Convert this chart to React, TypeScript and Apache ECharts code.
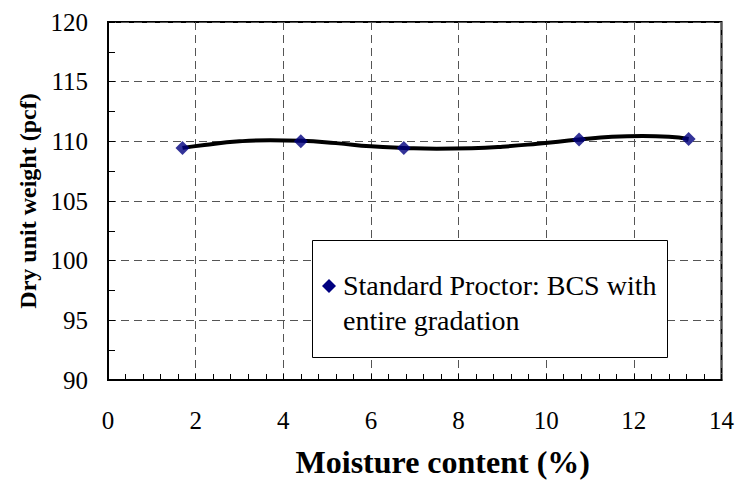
import React, { useEffect, useRef } from "react";
import * as echarts from "echarts";

const pointX = [1.7, 4.4, 6.75, 10.75, 13.25];
const pointY = [109.45, 110.0, 109.45, 110.15, 110.2];

const curveX = [1.7, 2.2, 3.0, 3.7, 4.4, 5.2, 6.0, 6.75, 7.5, 8.3, 9.0, 9.8, 10.75, 11.5, 12.2, 12.8, 13.25];
const curveY = [109.45, 109.7, 110.0, 110.1, 110.05, 109.85, 109.58, 109.45, 109.38, 109.42, 109.55, 109.8, 110.15, 110.38, 110.45, 110.38, 110.2];

const legendLines = ["Standard Proctor: BCS with", "entire gradation"];
const xTitle = "Moisture content (%)";
const yTitle = "Dry unit weight (pcf)";

const FONT = "Times New Roman, Liberation Serif, DejaVu Serif, serif";

export default function App() {
  const ref = useRef<HTMLDivElement>(null);
  useEffect(() => {
    document.body.style.margin = "0";
    const chart = echarts.init(ref.current!, null, { renderer: "svg" });
    const gridDash = { color: "#555", width: 1, type: [8, 5] as any };
    chart.setOption({
      animation: false,
      backgroundColor: "#fff",
      textStyle: { fontFamily: FONT },
      grid: { left: 108, right: 14, top: 22, bottom: 102, show: true, borderColor: "#000", borderWidth: 2, backgroundColor: "transparent" },
      xAxis: {
        type: "value",
        min: 0,
        max: 14,
        interval: 2,
        axisLine: { show: true, lineStyle: { color: "#000", width: 2 } },
        axisTick: { show: true, inside: true, length: 6, lineStyle: { color: "#000", width: 1 } },
        minorTick: { show: true, splitNumber: 5, length: 6, lineStyle: { color: "#000", width: 1 } },
        splitLine: { show: true, lineStyle: gridDash },
        axisLabel: { color: "#000", fontSize: 25, margin: 28, fontFamily: FONT },
        name: xTitle,
        nameLocation: "middle",
        nameGap: 66,
        nameTextStyle: { color: "#000", fontSize: 32, fontWeight: "bold", fontFamily: FONT, padding: [0, 0, 0, 56] },
      },
      yAxis: {
        type: "value",
        min: 90,
        max: 120,
        interval: 5,
        axisLine: { show: true, lineStyle: { color: "#000", width: 2 } },
        axisTick: { show: true, inside: true, length: 7, lineStyle: { color: "#000", width: 1 } },
        minorTick: { show: true, splitNumber: 2, length: 7, lineStyle: { color: "#000", width: 1 } },
        splitLine: { show: true, lineStyle: gridDash },
        axisLabel: { color: "#000", fontSize: 25, margin: 20, fontFamily: FONT },
        name: yTitle,
        nameLocation: "middle",
        nameGap: 68,
        nameTextStyle: { color: "#000", fontSize: 24, fontWeight: "bold", fontFamily: FONT },
      },
      series: [
        {
          type: "line",
          name: "trend",
          data: curveX.map((x, i) => [x, curveY[i]]),
          smooth: true,
          showSymbol: false,
          symbol: "none",
          lineStyle: { color: "#000", width: 4 },
          z: 3,
        },
        {
          type: "scatter",
          name: legendLines.join(" "),
          data: pointX.map((x, i) => [x, pointY[i]]),
          symbol: "diamond",
          symbolSize: 14,
          itemStyle: { color: "#000080" },
          z: 4,
        },
      ],
      graphic: [
        {
          type: "rect",
          shape: { x: 312.5, y: 240.5, width: 355, height: 117 },
          style: { fill: "#fff", stroke: "#000", lineWidth: 1 },
          z: 10,
        },
        {
          type: "polygon",
          shape: { points: [[329, 279], [336, 286], [329, 293], [322, 286]] },
          style: { fill: "#000080" },
          z: 11,
        },
        {
          type: "text",
          x: 343,
          y: 268,
          style: {
            text: legendLines.join("\n"),
            fontFamily: FONT,
            fontSize: 28,
            fill: "#000",
            lineHeight: 35,
            verticalAlign: "top",
          },
          z: 11,
        },
      ],
    });
    return () => chart.dispose();
  }, []);
  return <div ref={ref} style={{ width: 737, height: 483 }} />;
}
